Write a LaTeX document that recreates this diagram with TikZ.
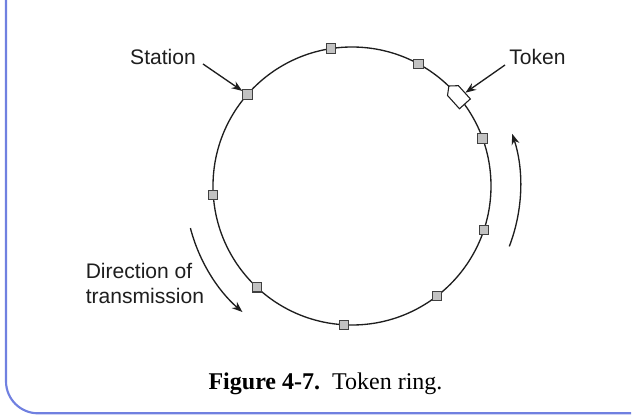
\documentclass[tikz,border=0pt]{standalone}
\usepackage{fontspec}
\setmainfont{Liberation Sans}
\newfontfamily\capfont{Liberation Serif}
\usetikzlibrary{arrows.meta,shapes.symbols}
\definecolor{framecol}{HTML}{7080E0}
\definecolor{stfill}{HTML}{C2C2C2}
\definecolor{ink}{HTML}{1E1E1E}
\begin{document}
\begin{tikzpicture}[x=0.75pt,y=0.75pt,
  station/.style={rectangle, draw=ink!85, fill=stfill, line width=0.8pt, minimum size=7pt, inner sep=0pt},
  token/.style={signal, signal to=east, signal pointer angle=100, draw=ink, fill=white, line width=0.8pt, minimum width=18pt, minimum height=11pt, inner sep=0pt},
  ring/.style={draw=ink, line width=1pt},
  arr/.style={draw=ink, line width=1pt, -{Stealth[length=8pt,width=6pt]}},
  lbl/.style={font=\fontsize{15.8}{18.75}\selectfont, text=ink, inner sep=0pt}]
\useasboundingbox (0,0) rectangle (636,418);
% frame
\draw[framecol, line width=1.6pt, rounded corners=24pt] (6,418) -- (6,4.7) -- (631,4.7);
% ring
\coordinate (C) at (352,232);
\draw[ring] (C) circle (139);
% stations
\foreach \a/\n in {98.6/1, 61.4/2, 138.8/3, 20/4, 183.7/5, -18.4/6, 226.8/7, -52.3/8, 266.7/9}
  \node[station] (s\n) at ([shift={(\a:139)}]C) {};
% token
\node[token, rotate=132] (tok) at ([shift={(39.7:139)}]C) {};
% labels
\node[lbl, anchor=base] (stl) at (163,353) {Station};
\node[lbl, anchor=base] (tkl) at (537.5,353) {Token};
\node[lbl, anchor=base west, align=left] (dirl) at (85.5,114.7) {Direction of\\transmission};
\coordinate (stla) at (203,354);
\coordinate (tkla) at (505,353);
\draw[arr] (stla) -- (s3);
\draw[arr] (tkla) -- (tok);
% direction arrows
\coordinate (d1) at ([shift={(194.6:167)}]C);
\coordinate (d2) at ([shift={(-21:168.5)}]C);
\draw[arr] (d1) arc[start angle=194.6, end angle=229, radius=167];
\draw[arr] (d2) arc[start angle=-21, end angle=18, radius=168.5];
% caption
\node[font=\capfont\fontsize{18}{20}\selectfont, anchor=base, inner sep=0pt] (cap) at (325.5,28) {\textbf{Figure 4-7.}\ \ Token ring.};
\end{tikzpicture}
\end{document}
